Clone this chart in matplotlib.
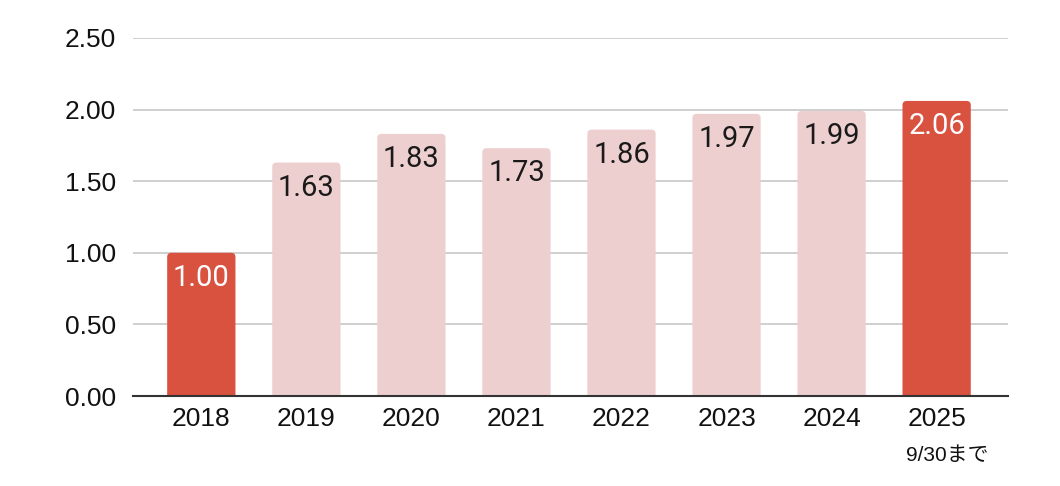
import matplotlib
matplotlib.use("Agg")
import matplotlib.pyplot as plt
import matplotlib.transforms as mtransforms
from matplotlib.patches import FancyBboxPatch

years = ["2018", "2019", "2020", "2021", "2022", "2023", "2024", "2025"]
values = [1.00, 1.63, 1.83, 1.73, 1.86, 1.97, 1.99, 2.06]
highlight = [True, False, False, False, False, False, False, True]
yticks = [0.0, 0.5, 1.0, 1.5, 2.0, 2.5]
note_2025 = "9/30まで"

red = "#d9513f"
pink = "#eecfcf"

plt.rcParams['font.family'] = ['Liberation Sans', 'Noto Sans CJK JP']

fig = plt.figure(figsize=(10.6, 4.86), dpi=100)
ax = fig.add_axes([0.1255, 0.185, 0.8255, 0.737])

x = list(range(len(years)))
colors = [red if h else pink for h in highlight]
bars = ax.bar(x, values, width=0.65, color=colors, zorder=3)

ax.set_ylim(0, 2.5)
ax.set_xlim(-0.65, len(years) - 1 + 0.68)

# swap plain bars for ones with slightly rounded top corners
bbox = ax.get_window_extent()
px_x = bbox.width / (ax.get_xlim()[1] - ax.get_xlim()[0])
px_y = bbox.height / (ax.get_ylim()[1] - ax.get_ylim()[0])
for b in bars:
    b.set_visible(False)
    p = FancyBboxPatch((b.get_x(), -0.05), b.get_width(), b.get_height() + 0.05,
                       boxstyle="round,pad=0,rounding_size=0.04",
                       mutation_aspect=px_x / px_y,
                       facecolor=b.get_facecolor(), edgecolor="none", zorder=3)
    ax.add_patch(p)

# labels inside top of bars
for b, v, h in zip(bars, values, highlight):
    ax.annotate(f"{v:.2f}", (b.get_x() + b.get_width() / 2, v),
                xytext=(0, -8), textcoords="offset points",
                ha="center", va="top", fontsize=21, family="Roboto",
                color="white" if h else "#1a1a1a", zorder=4)

ax.set_yticks(yticks)
ax.set_yticklabels([f"{t:.2f}" for t in yticks])
ax.set_xticks(x)
ax.set_xticklabels(years)
ax.tick_params(axis="both", length=0, labelsize=19, colors="#111111")
ax.tick_params(axis="y", pad=12)
ax.tick_params(axis="x", pad=8)

ax.grid(axis="y", color="#cccccc", linewidth=1.3, zorder=0)
for s in ["top", "right", "left"]:
    ax.spines[s].set_visible(False)
ax.spines["bottom"].set_color("#333333")
ax.spines["bottom"].set_linewidth(1.5)
ax.spines["bottom"].set_zorder(5)

trans = mtransforms.blended_transform_factory(ax.transData, ax.transAxes)
ax.annotate(note_2025, (x[-1], -0.14), xycoords=trans,
            xytext=(8, 0), textcoords="offset points",
            ha="center", va="top", fontsize=15, color="#111111")

fig.savefig("out.png", dpi=100)
